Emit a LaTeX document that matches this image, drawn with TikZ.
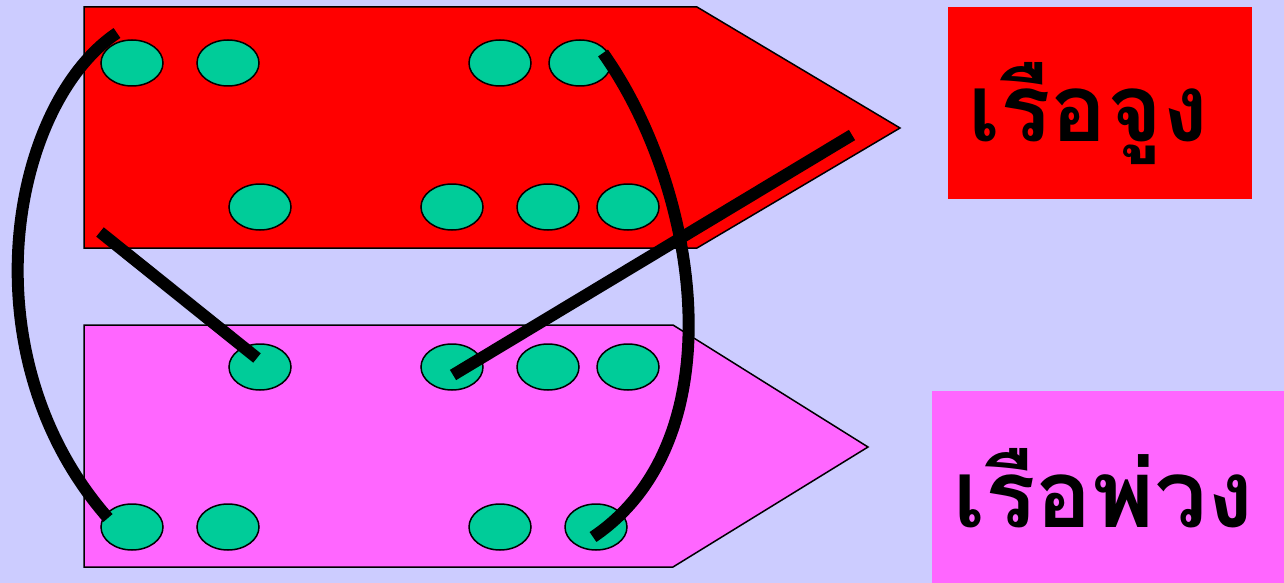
\documentclass[tikz,border=0pt]{standalone}
\usepackage{fontspec}
\newfontfamily\thaifont[Script=Thai]{Loma}
\usetikzlibrary{positioning,shapes.geometric,calc}
\definecolor{bgblue}{HTML}{CCCCFF}
\definecolor{tugred}{HTML}{FF0000}
\definecolor{towpink}{HTML}{FF66FF}
\definecolor{seatgreen}{HTML}{00CC99}

\begin{document}
\begin{tikzpicture}[x=1pt, y=-1pt,
    seat/.style={draw, ellipse, fill=seatgreen, line width=1.5pt, minimum width=62pt, minimum height=46pt, inner sep=0pt},
    hull/.style={draw, line width=1.5pt},
    rope/.style={line width=12pt},
    tag/.style={anchor=base west, inner sep=0pt, font=\thaifont\bfseries\fontsize{94}{100}\selectfont}]
  \useasboundingbox[fill=bgblue] (0,0) rectangle (1284,583);
  % boats
  \draw[hull, fill=tugred] (84,7) -- (697,7) -- (900,128) -- (697,248) -- (84,248) -- cycle;
  \draw[hull, fill=towpink] (84,325) -- (673,325) -- (868,447) -- (673,567) -- (84,567) -- cycle;
  % seats, tug boat
  \foreach \x [count=\i] in {132,228,500,580} \node[seat] (ta\i) at (\x,63) {};
  \foreach \x [count=\i] in {260,452,548,628} \node[seat] (tb\i) at (\x,207) {};
  % seats, towed boat
  \foreach \x [count=\i] in {260,452,548,628} \node[seat] (wa\i) at (\x,367) {};
  \foreach \x [count=\i] in {132,228,500,596} \node[seat] (wb\i) at (\x,527) {};
  % rope ends
  \coordinate (tugA) at ($(ta1)+(-15,-30)$);
  \coordinate (towA) at ($(wb1)+(-24,-9)$);
  \coordinate (tugB) at (100,232);
  \coordinate (towB) at ($(wa1)+(-3,-9)$);
  \coordinate (tugC) at (852,135);
  \coordinate (towC) at ($(wa2)+(1,8)$);
  \coordinate (tugD) at ($(ta4)+(23,-10)$);
  \coordinate (towD) at ($(wb4)+(-3,10)$);
  % ropes
  \draw[rope] (tugA) .. controls (10,105) and (-35,355) .. (towA);
  \draw[rope] (tugB) -- (towB);
  \draw[rope] (tugC) -- (towC);
  \draw[rope] (tugD) .. controls (700,190) and (737,440) .. (towD);
  % labels
  \node[fill=tugred, minimum width=304pt, minimum height=192pt, inner sep=0pt, anchor=north west] (tugbox) at (948,7) {};
  \node[fill=towpink, minimum width=352pt, minimum height=192pt, inner sep=0pt, anchor=north west] (towbox) at (932,391) {};
  \node[tag] (tuglabel) at (968,141) {เรือจูง};
  \node[tag] (towlabel) at (953,527) {เรือพ่วง};
\end{tikzpicture}
\end{document}
